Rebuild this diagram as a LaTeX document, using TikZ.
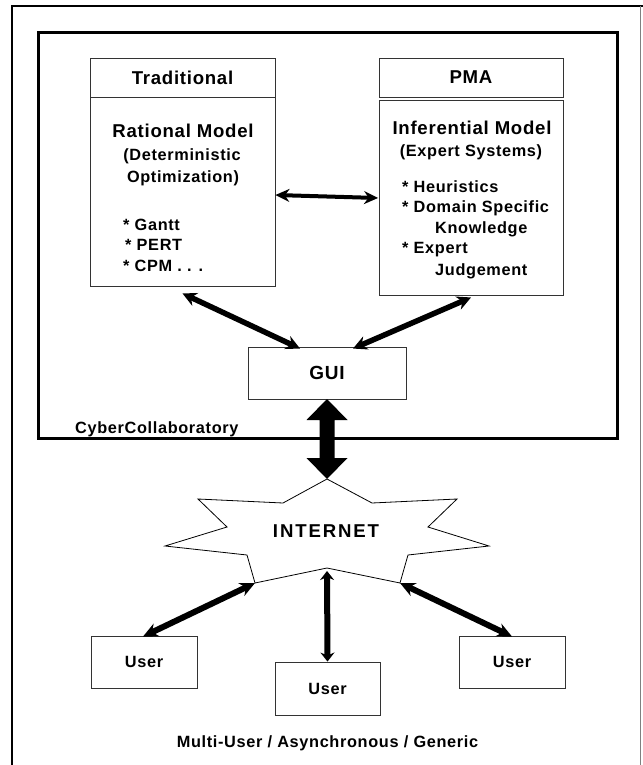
\documentclass[tikz,border=0pt]{standalone}
\usepackage{fontspec}
\setmainfont{Liberation Sans}[LetterSpace=4]
\newfontfamily\widefont{Liberation Sans}[LetterSpace=10]
\usetikzlibrary{arrows.meta}
\begin{document}
\begin{tikzpicture}[x=1pt,y=-1pt,
  box/.style={draw=black!80, line width=0.9pt, inner sep=0pt},
  bigtxt/.style={font=\fontsize{18.6}{20}\selectfont\bfseries},
  smalltxt/.style={font=\fontsize{16.3}{18}\selectfont\bfseries},
  lbl/.style={inner sep=0pt, anchor=base},
  lblw/.style={inner sep=0pt, anchor=base west},
  dblarrow/.style={line width=5.5pt, {Stealth[length=14pt,width=14pt]}-{Stealth[length=14pt,width=14pt]}},
  midarrow/.style={line width=4pt, {Stealth[length=14pt,width=13pt]}-{Stealth[length=14pt,width=13pt]}},
  userarrow/.style={line width=6pt, {Stealth[length=15pt,width=14pt]}-{Stealth[length=15pt,width=14pt]}},
  ctrarrow/.style={line width=6pt, {Stealth[length=9pt,width=14pt]}-{Stealth[length=9pt,width=14pt]}},
]
\useasboundingbox (0,0) rectangle (642,765);
\fill[white] (0,0) rectangle (642,765);
% outer frame
\draw[line width=2.5pt] (12,766) -- (12,6) -- (643,6);
\draw[black!50, line width=0.8pt] (640,6) -- (640,766);
% CyberCollaboratory frame
\draw[line width=3pt] (38,33) rectangle (617,438);
\node[lblw, smalltxt] (cyber) at (75,433) {CyberCollaboratory};

% Traditional
\node[box, bigtxt, minimum width=185pt, minimum height=39pt] (tradh) at (182.5,77.5) {Traditional};
\node[box, minimum width=185pt, minimum height=189pt] (tradb) at (182.5,191.5) {};
\node[lbl, bigtxt] (ratm) at (183,137) {Rational Model};
\node[lbl, smalltxt] (det) at (182,160) {(Deterministic};
\node[lbl, smalltxt] (opt) at (183,182) {Optimization)};
\node[lblw, smalltxt] (gantt) at (123,230) {* Gantt};
\node[lblw, smalltxt] (pert) at (125,250) {* PERT};
\node[lblw, smalltxt] (cpm) at (123,271) {* CPM . . .};

% PMA
\node[box, bigtxt, minimum width=184pt, minimum height=39pt] (pmah) at (471,77.5) {PMA};
\node[box, minimum width=184pt, minimum height=195pt] (pmab) at (471,197.5) {};
\node[lbl, bigtxt] (infm) at (472,135) {Inferential Model};
\node[lbl, smalltxt] (exps) at (471,156) {(Expert Systems)};
\node[lblw, smalltxt] (heur) at (402,192) {* Heuristics};
\node[lblw, smalltxt] (dom) at (402,212) {* Domain Specific};
\node[lblw, smalltxt] (know) at (435,233) {Knowledge};
\node[lblw, smalltxt] (expt) at (402,253) {* Expert};
\node[lblw, smalltxt] (judg) at (435,275) {Judgement};

% GUI
\node[box, font=\fontsize{19}{20}\selectfont\bfseries, minimum width=158pt, minimum height=52pt] (gui) at (327,373) {GUI};

% arrows in collaboratory
\draw[midarrow] ([yshift=-3.5pt]tradb.east) -- ([xshift=-0.5pt,yshift=-0.5pt]pmab.west);
\draw[dblarrow] ([yshift=-7pt]tradb.south) -- ([xshift=-27pt,yshift=-2pt]gui.north);
\draw[dblarrow] ([yshift=-2pt]pmab.south) -- ([xshift=26pt,yshift=-2pt]gui.north);

% block double arrow GUI <-> INTERNET
\fill (327,399) -- (347.5,420) -- (334.5,420) -- (334.5,458) -- (347.5,458) -- (327,479)
  -- (306.5,458) -- (319.5,458) -- (319.5,420) -- (306.5,420) -- cycle;

% INTERNET star
\draw[line width=0.8pt, fill=white] (327,479) -- (372,503) -- (457,499) -- (428,527) -- (489,546)
  -- (408,555) -- (400,583) -- (327,568) -- (255,583) -- (247,555) -- (165,546)
  -- (227,527) -- (198,499) -- (283,503) -- cycle;
\coordinate (sL) at (255,583);
\coordinate (sB) at (327,568);
\coordinate (sR) at (400,583);
\node[lbl, font=\fontsize{18.6}{20}\selectfont\bfseries\widefont] (inet) at (326,537) {INTERNET};

% users
\node[box, smalltxt, minimum width=106pt, minimum height=52pt] (userL) at (144,662) {User};
\node[box, smalltxt, minimum width=105pt, minimum height=53pt] (userC) at (327.5,688.5) {User};
\node[box, smalltxt, minimum width=106pt, minimum height=52pt] (userR) at (512,662) {User};

\draw[userarrow] (sL) -- ([xshift=-1pt,yshift=-1pt]userL.north);
\draw[ctrarrow, shorten <=3pt] (sB) -- (userC.north);
\draw[userarrow] (sR) -- ([yshift=-1pt]userR.north);

\node[lbl, smalltxt] (multi) at (327.5,747) {Multi-User / Asynchronous / Generic};
\end{tikzpicture}
\end{document}
